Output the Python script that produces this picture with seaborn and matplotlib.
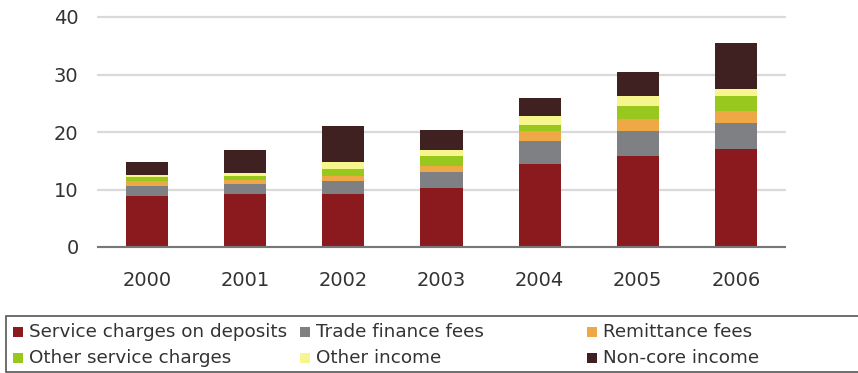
import matplotlib
matplotlib.use("Agg")
import matplotlib.pyplot as plt
from matplotlib.patches import Rectangle
import numpy as np
import pandas as pd
import seaborn as sns

years = ["2000", "2001", "2002", "2003", "2004", "2005", "2006"]

service_charges_on_deposits = [8.9, 9.3, 9.3, 10.3, 14.4, 15.9, 17.1]
trade_finance_fees = [1.7, 1.7, 2.2, 2.7, 4.0, 4.3, 4.5]
remittance_fees = [0.8, 0.6, 0.9, 1.1, 1.8, 2.1, 2.1]
other_service_charges = [0.8, 0.8, 1.2, 1.7, 1.1, 2.3, 2.5]
other_income = [0.4, 0.4, 1.1, 1.1, 1.4, 1.6, 1.3]
non_core_income = [2.1, 4.0, 6.3, 3.5, 3.3, 4.2, 8.0]

series_names = [
    "Service charges on deposits",
    "Trade finance fees",
    "Remittance fees",
    "Other service charges",
    "Other income",
    "Non-core income",
]
series_values = [
    service_charges_on_deposits,
    trade_finance_fees,
    remittance_fees,
    other_service_charges,
    other_income,
    non_core_income,
]
series_colors = ["#8B1A1E", "#7F8084", "#EEA845", "#98C81E", "#F6F58E", "#3F2121"]

y_ticks = [0, 10, 20, 30, 40]

sns.set_style("white")
plt.rcParams["font.family"] = ["DejaVu Sans"]
text_color = "#333333"

fig = plt.figure(figsize=(8.58, 3.73), dpi=100)
ax = fig.add_axes([98 / 858, 126 / 373, 687 / 858, 230 / 373])

# stacked bars: draw running totals from the top layer down
cumulative = np.cumsum(np.array(series_values, dtype=float), axis=0)
for k in range(len(series_names) - 1, -1, -1):
    df = pd.DataFrame({"year": years, "value": cumulative[k]})
    sns.barplot(data=df, x="year", y="value", color=series_colors[k],
                saturation=1, width=0.43, linewidth=0, ax=ax, zorder=3)

ax.set_xlim(-0.5, len(years) - 0.5)
ax.set_ylim(0, 40)
ax.set_yticks(y_ticks)
ax.set_xlabel("")
ax.set_ylabel("")
ax.yaxis.grid(True, color="#d9d9d9", linewidth=1.6, zorder=0)
for gl in ax.yaxis.get_gridlines():
    gl.set_clip_on(False)
ax.set_axisbelow(True)
for side in ["left", "right", "top"]:
    ax.spines[side].set_visible(False)
ax.spines["bottom"].set_color("#777777")
ax.spines["bottom"].set_linewidth(1.5)
ax.spines["bottom"].set_zorder(4)
ax.tick_params(axis="both", length=0, labelsize=14, labelcolor=text_color)
ax.tick_params(axis="y", pad=14)
ax.tick_params(axis="x", pad=17)

# legend box below the plot
frame = Rectangle((6 / 858, 1 / 373), 860 / 858, 56 / 373, transform=fig.transFigure,
                  facecolor="white", edgecolor="#555555", linewidth=1.2, clip_on=False)
fig.add_artist(frame)
col_x = [13, 300, 587]
row_y = [373 - 332, 373 - 358]
for i, (name, color) in enumerate(zip(series_names, series_colors)):
    cx = col_x[i % 3]
    cy = row_y[i // 3]
    fig.add_artist(Rectangle((cx / 858, (cy - 5) / 373), 10 / 858, 10 / 373,
                             transform=fig.transFigure, facecolor=color,
                             edgecolor="none"))
    fig.text((cx + 16) / 858, cy / 373, name, fontsize=13.2, color=text_color,
             va="center", ha="left")

fig.savefig("out.png", dpi=100)
